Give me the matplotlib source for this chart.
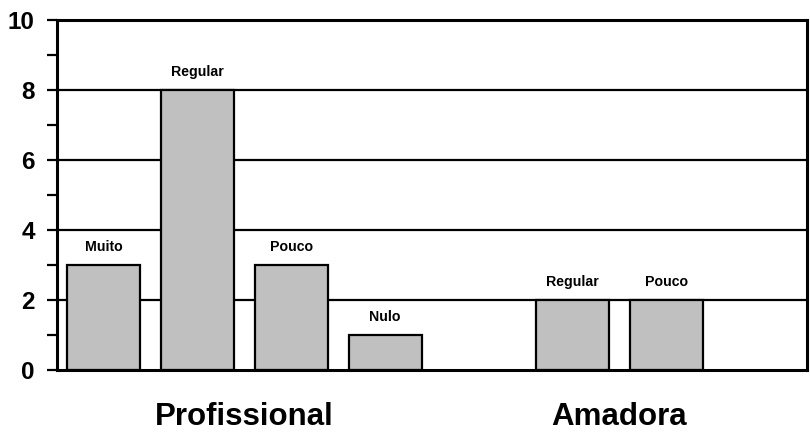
import numpy as np
import matplotlib
matplotlib.use("Agg")
import matplotlib.pyplot as plt
from matplotlib.ticker import MultipleLocator

plt.rcParams['font.family'] = ['Liberation Sans', 'DejaVu Sans']

# Respostas por grupo (a posição 4 fica vazia entre os grupos)
categorias = ["Muito", "Regular", "Pouco", "Nulo", "Regular", "Pouco"]
valores = [3, 8, 3, 1, 2, 2]
posicoes = [0, 1, 2, 3, 5, 6]
grupos = ["Profissional", "Amadora"]
centros_grupos = [1.5, 5.5]

fig = plt.figure(figsize=(8.1, 4.34), dpi=100)
ax = fig.add_axes([0.0704, 0.1475, 0.9259, 0.8064])

# Linhas de grade horizontais pretas atrás das barras
for y in range(2, 11, 2):
    ax.axhline(y, color="black", lw=1.6, zorder=1)

ax.bar(posicoes, valores, width=0.78, color="#c0c0c0", edgecolor="black",
       linewidth=1.6, zorder=2)

for x, v, txt in zip(posicoes, valores, categorias):
    ax.text(x, v + 0.4, txt, ha="center", va="baseline",
            fontsize=10.2, fontweight="bold")

ax.set_xlim(-0.5, 7.5)
ax.set_ylim(0, 10)

ax.yaxis.set_major_locator(MultipleLocator(2))
ax.yaxis.set_minor_locator(MultipleLocator(1))
ax.tick_params(axis="y", which="both", direction="out", length=7,
               width=1.6, pad=9, labelsize=17.5)
for lbl in ax.get_yticklabels():
    lbl.set_fontweight("bold")

ax.set_xticks(centros_grupos, grupos)
ax.tick_params(axis="x", length=0, pad=23, labelsize=22.5)
for lbl in ax.get_xticklabels():
    lbl.set_fontweight("bold")

for s in ax.spines.values():
    s.set_linewidth(2.2)

fig.savefig("out.png", dpi=100)
